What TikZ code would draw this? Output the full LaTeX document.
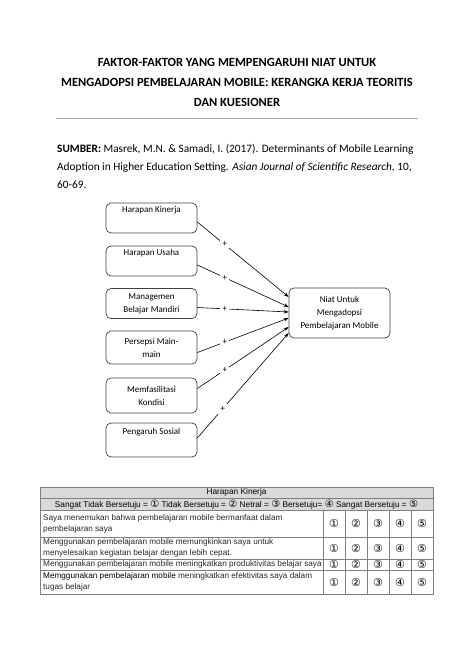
\documentclass[tikz,border=0pt]{standalone}
\usepackage{fontspec}
\setmainfont{Carlito}
\newfontfamily\arialfont{Liberation Sans}
\newfontfamily\circfont{DejaVu Sans}
\usetikzlibrary{arrows.meta}

\newcommand\circnum[1]{{\circfont\ifcase#1\or ①\or ②\or ③\or ④\or ⑤\fi}}

\begin{document}
\begin{tikzpicture}[x=1pt,y=-1pt]

    % page frame (1pt = 1px of the page)
    \useasboundingbox (0,0) rectangle (474,670);

    % let's define some key values
    \def\xfactor{151.5}
    \def\tabl{40}
    \def\tabr{433}
    \def\tabc{323}
    \def\colw{22}

    % Styles
    \tikzstyle{factor}=[draw=black!75, rounded corners=5pt, line width=0.7pt, minimum width=91pt, inner sep=0pt, align=center, font=\fontsize{9}{13}\selectfont]
    \tikzstyle{plus}=[fill=white, inner sep=2.5pt, pos=0.3, font=\fontsize{9}{9}\selectfont]
    \tikzstyle{link}=[-{Stealth[length=5pt,width=3.5pt]}, line width=0.6pt]
    \tikzstyle{cell}=[anchor=west, inner sep=0pt, align=left, text=black!85, font=\arialfont\fontsize{8.2}{11}\selectfont]
    \tikzstyle{circ}=[inner sep=0pt, font=\fontsize{11}{11}\selectfont]
    \tikzstyle{grid}=[draw=black!50, line width=0.6pt]

    % title
    \node[align=center, font=\fontsize{12.5}{20}\selectfont\bfseries] (title) at (237,82)
        {FAKTOR-FAKTOR YANG MEMPENGARUHI NIAT UNTUK\\
         MENGADOPSI PEMBELAJARAN MOBILE: KERANGKA KERJA TEORITIS\\
         DAN KUESIONER};
    \draw[black!35, line width=1.5pt] (56,118.5) coordinate (rule1) -- (418,118.5) coordinate (rule2);

    % source
    \node[anchor=west, align=left, inner sep=0pt, font=\fontsize{11.3}{18}\selectfont] (source) at (57,166)
        {\textbf{SUMBER:} Masrek, M.N. \& Samadi, I. (2017). Determinants of Mobile Learning\\
         Adoption in Higher Education Setting. \textit{Asian Journal of Scientific Research}, 10,\\
         60-69.};

    % factors
    \node[factor, minimum height=30pt] (hk) at (\xfactor,218) {Harapan Kinerja\\ \strut};
    \node[factor, minimum height=30pt] (hu) at (\xfactor,261) {Harapan Usaha\\ \strut};
    \node[factor, minimum height=30pt] (mbm) at (\xfactor,303.5) {Managemen\\Belajar Mandiri};
    \node[factor, minimum height=33pt] (pm) at (\xfactor,347.5) {Persepsi Main-\\main};
    \node[factor, minimum height=35pt] (mk) at (\xfactor,395.5) {Memfasilitasi\\Kondisi};
    \node[factor, minimum height=34pt] (ps) at (\xfactor,440) {Pengaruh Sosial\\ \strut};

    % intention
    \node[factor, minimum width=101pt, minimum height=50pt] (niat) at (339.5,313)
        {Niat Untuk\\Mengadopsi\\Pembelajaran Mobile};

    % links
    \draw[link] ([yshift=-4pt]hk.east) -- node[plus] (p1) {+} ([yshift=16pt]niat.west);
    \draw[link] ([yshift=-4pt]hu.east) -- node[plus] (p2) {+} ([yshift=6pt]niat.west);
    \draw[link] ([yshift=-4pt]mbm.east) -- node[plus] (p3) {+} ([yshift=1pt]niat.west);
    \draw[link] ([yshift=-5pt]pm.east) -- node[plus] (p4) {+} ([yshift=-5pt]niat.west);
    \draw[link] ([yshift=7pt]mk.east) -- node[plus] (p5) {+} ([yshift=-14pt]niat.west);
    \draw[link] ([yshift=2pt]ps.east) -- node[plus, pos=0.28] (p6) {+} ([yshift=-20pt]niat.west);

    % questionnaire table
    \fill[black!15] (\tabl,487) rectangle (\tabr,510);
    \draw[grid] (\tabl,487) rectangle (\tabr,594);
    \foreach \y in {498.5,510,537,559.5,570}
        \draw[grid] (\tabl,\y) -- (\tabr,\y);
    \foreach \c in {0,...,4}
        \draw[grid] ({\tabc+\colw*\c},510) -- ({\tabc+\colw*\c},594);

    \node[inner sep=0pt, font=\arialfont\fontsize{8.3}{9}\selectfont] (head) at (236.5,492.8) {Harapan Kinerja};
    \node[inner sep=0pt, font=\arialfont\fontsize{8.3}{9}\selectfont] (scale) at (236.5,504.3)
        {Sangat Tidak Bersetuju = {\fontsize{10}{10}\selectfont\circnum{1}} Tidak Bersetuju = {\fontsize{10}{10}\selectfont\circnum{2}} Netral = {\fontsize{10}{10}\selectfont\circnum{3}} Bersetuju= {\fontsize{10}{10}\selectfont\circnum{4}} Sangat Bersetuju = {\fontsize{10}{10}\selectfont\circnum{5}}};

    \node[cell] (q1) at (43,523.5) {Saya menemukan bahwa pembelajaran mobile bermanfaat dalam\\pembelajaran saya};
    \node[cell] (q2) at (43,548.3) {Menggunakan pembelajaran mobile memungkinkan saya untuk\\menyelesaikan kegiatan belajar dengan lebih cepat.};
    \node[cell] (q3) at (43,564.8) {Menggunakan pembelajaran mobile meningkatkan produktivitas belajar saya};
    \node[cell] (q4) at (43,582) {{\color{black}Memggunakan pembelajaran mobile} meningkatkan efektivitas saya dalam\\tugas belajar};

    % answer circles
    \foreach \y [count=\r] in {523.5,548.3,564.8,582}
        \foreach \c in {1,...,5}
            \node[circ] (a\r\c) at ({\tabc+\colw*\c-\colw/2},\y) {\circnum{\c}};

\end{tikzpicture}
\end{document}
